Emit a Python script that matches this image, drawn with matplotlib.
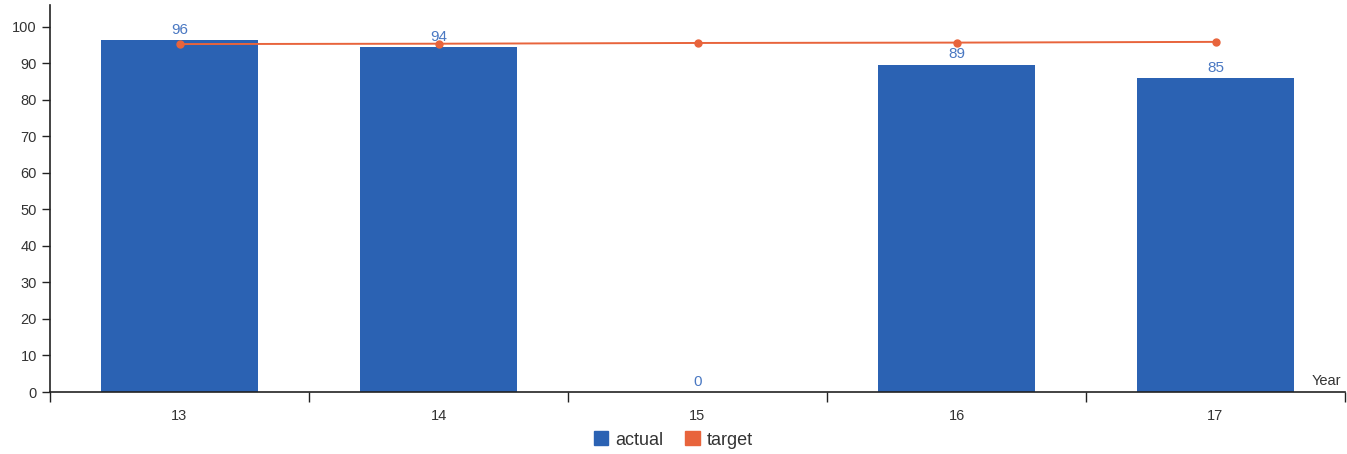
import matplotlib
matplotlib.use('Agg')
import matplotlib.pyplot as plt
from matplotlib.patches import Patch
import numpy as np

YEARS = ['13', '14', '15', '16', '17']
ACTUAL = [96.3, 94.5, 0, 89.7, 86.0]
ACTUAL_LABELS = ['96', '94', '0', '89', '85']
TARGET = [95.3, 95.4, 95.6, 95.7, 95.9]

BLUE = '#2b62b3'
ORANGE = '#e8643c'
LABEL_BLUE = '#4a78c2'

plt.rcParams['font.family'] = ['Liberation Sans', 'DejaVu Sans']


def main():
    fig = plt.figure(figsize=(13.47, 4.54), dpi=100)
    ax = fig.add_axes([50 / 1347, 62 / 454, 1295 / 1347, 387 / 454])

    x = np.arange(len(YEARS))
    ax.bar(x, ACTUAL, width=0.61, color=BLUE, zorder=2)
    ax.plot(x, TARGET, color=ORANGE, lw=1.4, marker='o', ms=5, zorder=3)

    for i, v in enumerate(ACTUAL):
        ax.text(x[i], v + 0.9, ACTUAL_LABELS[i], ha='center', va='bottom',
                color=LABEL_BLUE, fontsize=11)

    ax.set_xlim(-0.5, len(YEARS) - 0.5)
    ax.set_ylim(0, 106)
    ax.set_yticks(range(0, 101, 10))
    ax.set_xticks(x)
    ax.set_xticklabels(YEARS)
    ax.set_xticks(np.arange(-0.5, len(YEARS)), minor=True)
    ax.tick_params(axis='x', which='major', length=0, pad=12, labelsize=10.5, labelcolor='#333333')
    ax.tick_params(axis='x', which='minor', length=7, width=1, color='#222222')
    ax.tick_params(axis='y', length=6, width=1, color='#222222', labelsize=10.5, labelcolor='#333333')

    for s in ['top', 'right']:
        ax.spines[s].set_visible(False)
    for s in ['left', 'bottom']:
        ax.spines[s].set_color('#222222')
        ax.spines[s].set_linewidth(1.2)

    ax.text(0.997, 0.01, 'Year', transform=ax.transAxes, ha='right', va='bottom',
            fontsize=10.5, color='#333333')

    handles = [Patch(color=BLUE, label='actual'), Patch(color=ORANGE, label='target')]
    fig.legend(handles=handles, loc='center', bbox_to_anchor=(0.5, 14 / 454), ncol=2,
               frameon=False, fontsize=13, handlelength=0.8, handleheight=0.8,
               handletextpad=0.4, columnspacing=1.2, labelcolor='#333333')

    fig.savefig('out.png', dpi=100)


if __name__ == '__main__':
    main()
